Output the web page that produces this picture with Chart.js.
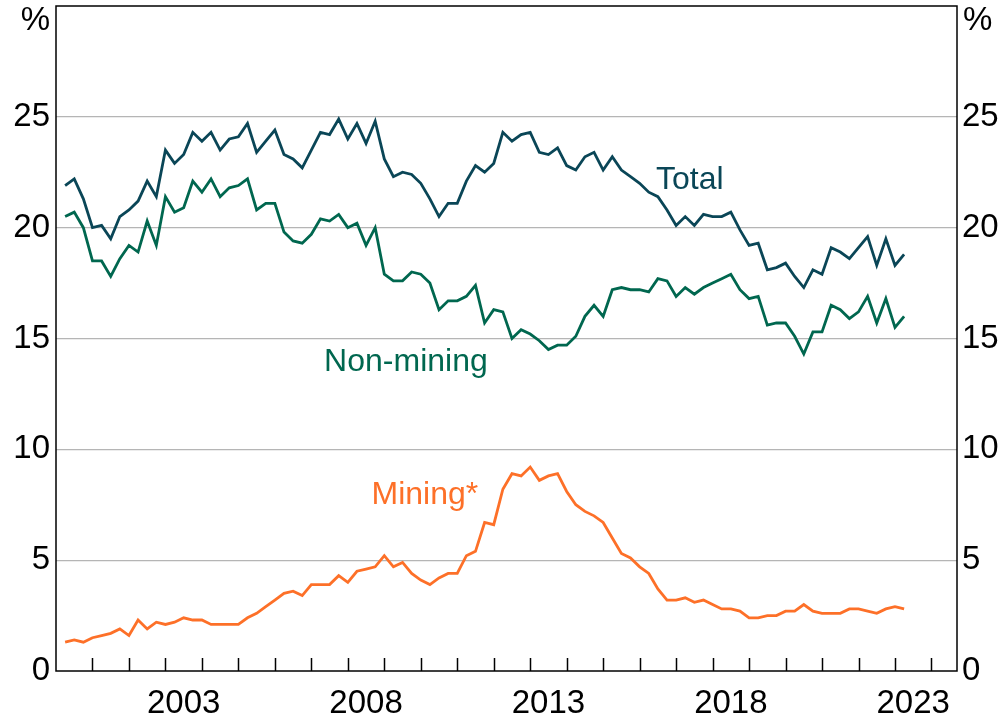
<!DOCTYPE html>
<html lang="en">
<head>
<meta charset="UTF-8">
<title>Total, Non-mining and Mining</title>
<script src="https://cdn.jsdelivr.net/npm/chart.js"></script>
<style>
  html, body { margin: 0; padding: 0; background: #fff; }
  #wrap { width: 1002px; height: 719px; position: relative; }
</style>
</head>
<body>
<div id="wrap"><canvas id="chart"></canvas></div>
<script>
// quarterly observations, Mar 2000 to Mar 2023
const quarters = [];
for (let i = 0; i < 93; i++) quarters.push(2000.25 + i * 0.25);

const total = [21.9, 22.2, 21.3, 20.0, 20.1, 19.5, 20.5, 20.8, 21.2, 22.1, 21.4, 23.5, 22.9, 23.3, 24.3, 23.9,
  24.3, 23.5, 24.0, 24.1, 24.7, 23.4, 23.9, 24.4, 23.3, 23.1, 22.7, 23.5, 24.3, 24.2, 24.9, 24.0,
  24.7, 23.8, 24.8, 23.1, 22.3, 22.5, 22.4, 22.0, 21.3, 20.5, 21.1, 21.1, 22.1, 22.8, 22.5, 22.9,
  24.3, 23.9, 24.2, 24.3, 23.4, 23.3, 23.6, 22.8, 22.6, 23.2, 23.4, 22.6, 23.2, 22.6, 22.3, 22.0,
  21.6, 21.4, 20.8, 20.1, 20.5, 20.1, 20.6, 20.5, 20.5, 20.7, 19.9, 19.2, 19.3, 18.1, 18.2, 18.4,
  17.8, 17.3, 18.1, 17.9, 19.1, 18.9, 18.6, 19.1, 19.6, 18.3, 19.5, 18.3, 18.8];

const nonMining = [20.5, 20.7, 20.0, 18.5, 18.5, 17.8, 18.6, 19.2, 18.9, 20.3, 19.2, 21.4, 20.7, 20.9, 22.1, 21.6,
  22.2, 21.4, 21.8, 21.9, 22.2, 20.8, 21.1, 21.1, 19.8, 19.4, 19.3, 19.7, 20.4, 20.3, 20.6, 20.0,
  20.2, 19.2, 20.0, 17.9, 17.6, 17.6, 18.0, 17.9, 17.5, 16.3, 16.7, 16.7, 16.9, 17.4, 15.7, 16.3,
  16.2, 15.0, 15.4, 15.2, 14.9, 14.5, 14.7, 14.7, 15.1, 16.0, 16.5, 16.0, 17.2, 17.3, 17.2, 17.2,
  17.1, 17.7, 17.6, 16.9, 17.3, 17.0, 17.3, 17.5, 17.7, 17.9, 17.2, 16.8, 16.9, 15.6, 15.7, 15.7,
  15.1, 14.3, 15.3, 15.3, 16.5, 16.3, 15.9, 16.2, 16.9, 15.7, 16.8, 15.5, 16.0];

const mining = [1.3, 1.4, 1.3, 1.5, 1.6, 1.7, 1.9, 1.6, 2.3, 1.9, 2.2, 2.1, 2.2, 2.4, 2.3, 2.3,
  2.1, 2.1, 2.1, 2.1, 2.4, 2.6, 2.9, 3.2, 3.5, 3.6, 3.4, 3.9, 3.9, 3.9, 4.3, 4.0,
  4.5, 4.6, 4.7, 5.2, 4.7, 4.9, 4.4, 4.1, 3.9, 4.2, 4.4, 4.4, 5.2, 5.4, 6.7, 6.6,
  8.2, 8.9, 8.8, 9.2, 8.6, 8.8, 8.9, 8.1, 7.5, 7.2, 7.0, 6.7, 6.0, 5.3, 5.1, 4.7,
  4.4, 3.7, 3.2, 3.2, 3.3, 3.1, 3.2, 3.0, 2.8, 2.8, 2.7, 2.4, 2.4, 2.5, 2.5, 2.7,
  2.7, 3.0, 2.7, 2.6, 2.6, 2.6, 2.8, 2.8, 2.7, 2.6, 2.8, 2.9, 2.8];

const yTicks = [0, 5, 10, 15, 20, 25];
const yearLabels = [2003, 2008, 2013, 2018, 2023];
const yearTicks = [2001, 2002, 2003, 2004, 2005, 2006, 2007, 2008, 2009, 2010, 2011, 2012,
  2013, 2014, 2015, 2016, 2017, 2018, 2019, 2020, 2021, 2022, 2023, 2024];

const colTotal = '#0a4657';
const colNonMining = '#00674f';
const colMining = '#fd7028';
const font = '"Liberation Sans", Arial, sans-serif';

// series names placed in data coordinates: [text, x, y, colour]
const seriesLabels = [
  ['Total', 2016.45, 22.15, colTotal],
  ['Non-mining', 2007.35, 13.95, colNonMining],
  ['Mining*', 2008.65, 7.95, colMining]
];

function toPoints(arr) {
  return arr.map((v, i) => ({ x: quarters[i], y: v }));
}

const decorPlugin = {
  id: 'decor',
  afterDatasetsDraw(chart) {
    const ctx = chart.ctx;
    const a = chart.chartArea;
    const xs = chart.scales.x;
    const ys = chart.scales.y;
    ctx.save();
    // inward year ticks
    ctx.strokeStyle = '#000';
    ctx.lineWidth = 1.5;
    ctx.beginPath();
    yearTicks.forEach(yr => {
      const px = Math.round(xs.getPixelForValue(yr)) + 0.5;
      ctx.moveTo(px, a.bottom);
      ctx.lineTo(px, a.bottom - 13);
    });
    ctx.stroke();
    // frame
    ctx.lineWidth = 1.5;
    ctx.strokeRect(a.left, a.top, a.right - a.left, a.bottom - a.top);
    // unit labels
    ctx.fillStyle = '#000';
    ctx.font = '33px ' + font;
    ctx.textBaseline = 'middle';
    ctx.textAlign = 'right';
    ctx.fillText('%', a.left - 6, a.top + 15);
    ctx.textAlign = 'left';
    ctx.fillText('%', a.right + 6, a.top + 15);
    // series names
    ctx.font = '32px ' + font;
    seriesLabels.forEach(([t, x, y, c]) => {
      ctx.fillStyle = c;
      ctx.fillText(t, xs.getPixelForValue(x), ys.getPixelForValue(y));
    });
    ctx.restore();
  }
};

const tickFont = { family: font, size: 33 };

function fitY(width) {
  return s => {
    s.width = width;
    s.paddingTop = 0;
    s.paddingBottom = 0;
  };
}

new Chart(document.getElementById('chart'), {
  type: 'line',
  data: {
    datasets: [
      { label: 'Total', data: toPoints(total), borderColor: colTotal },
      { label: 'Non-mining', data: toPoints(nonMining), borderColor: colNonMining },
      { label: 'Mining*', data: toPoints(mining), borderColor: colMining }
    ]
  },
  options: {
    responsive: true,
    maintainAspectRatio: false,
    animation: false,
    devicePixelRatio: 1,
    layout: { padding: { top: 6, left: 0, right: 0, bottom: 0 } },
    elements: {
      line: { borderWidth: 2.8, tension: 0, fill: false },
      point: { radius: 0 }
    },
    plugins: { legend: { display: false }, tooltip: { enabled: false } },
    scales: {
      x: {
        type: 'linear',
        position: 'bottom',
        min: 2000,
        max: 2024.7,
        afterBuildTicks: s => { s.ticks = yearLabels.map(y => ({ value: y + 0.5 })); },
        afterFit: s => { s.height = 48; s.paddingLeft = 0; s.paddingRight = 0; },
        ticks: {
          callback: v => String(Math.floor(v)),
          autoSkip: false,
          maxRotation: 0,
          color: '#000',
          font: tickFont,
          padding: 13
        },
        grid: { display: false, drawTicks: false },
        border: { display: false }
      },
      y: {
        position: 'left',
        min: 0,
        max: 30,
        afterBuildTicks: s => { s.ticks = yTicks.map(v => ({ value: v })); },
        afterFit: fitY(56),
        ticks: {
          color: '#000',
          font: tickFont,
          padding: 6
        },
        grid: {
          color: c => (c.tick && c.tick.value === 0) ? 'rgba(0,0,0,0)' : '#b5b5b5',
          lineWidth: 1.3,
          drawTicks: false
        },
        border: { display: false }
      },
      y2: {
        position: 'right',
        min: 0,
        max: 30,
        afterBuildTicks: s => { s.ticks = yTicks.map(v => ({ value: v })); },
        afterFit: fitY(45),
        ticks: {
          color: '#000',
          font: tickFont,
          padding: 5
        },
        grid: { display: false, drawTicks: false },
        border: { display: false }
      }
    }
  },
  plugins: [decorPlugin]
});
</script>
</body>
</html>
